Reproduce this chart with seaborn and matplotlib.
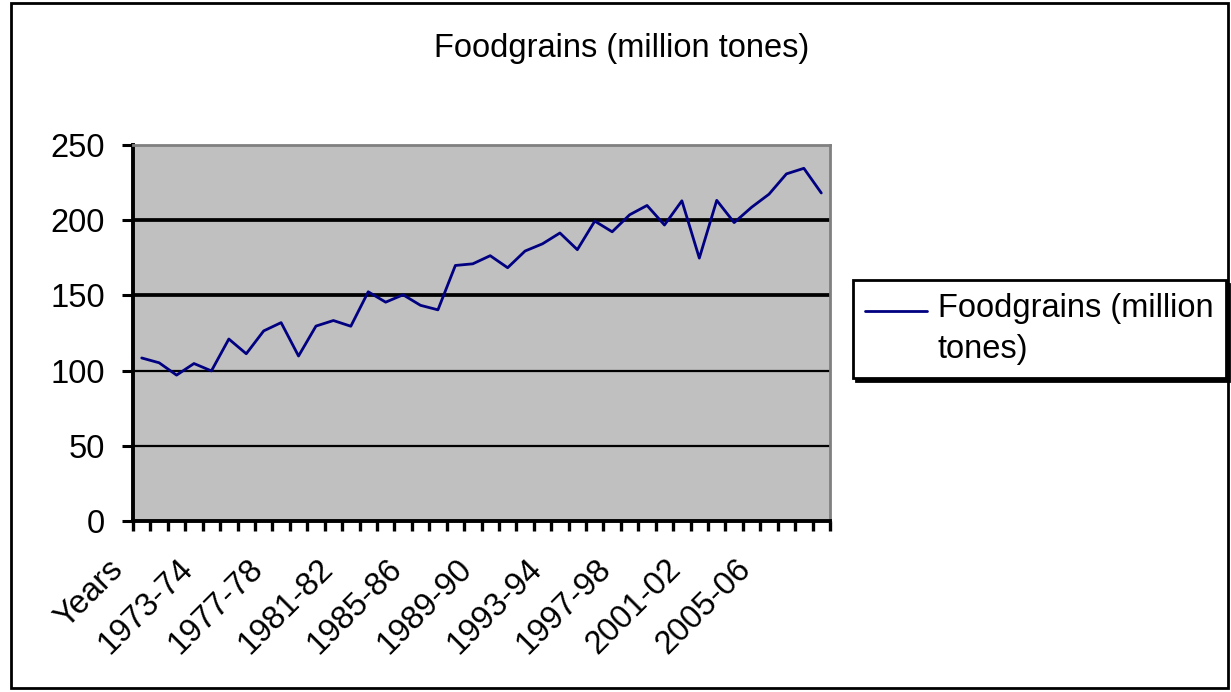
import numpy as np
import pandas as pd
import seaborn as sns
import matplotlib
matplotlib.use("Agg")
import matplotlib.pyplot as plt
from matplotlib.patches import Rectangle
from matplotlib.lines import Line2D
from matplotlib.legend_handler import HandlerLine2D

# Category labels along the x axis (one per plotted point)
seasons = [
    "Years", "1970-71", "1971-72", "1972-73", "1973-74", "1974-75", "1975-76",
    "1976-77", "1977-78", "1978-79", "1979-80", "1980-81", "1981-82", "1982-83",
    "1983-84", "1984-85", "1985-86", "1986-87", "1987-88", "1988-89", "1989-90",
    "1990-91", "1991-92", "1992-93", "1993-94", "1994-95", "1995-96", "1996-97",
    "1997-98", "1998-99", "1999-00", "2000-01", "2001-02", "2002-03", "2003-04",
    "2004-05", "2005-06", "2006-07", "2007-08", "2008-09",
]

# Foodgrain production, million tonnes
foodgrains = [
    108.4, 105.2, 97.0, 104.7, 99.8, 121.0, 111.2, 126.4, 131.9, 109.7,
    129.6, 133.3, 129.5, 152.4, 145.5, 150.4, 143.4, 140.4, 169.9, 171.0,
    176.4, 168.4, 179.5, 184.3, 191.5, 180.4, 199.4, 192.3, 203.6, 209.8,
    196.8, 212.9, 174.8, 213.2, 198.4, 208.6, 217.3, 230.8, 234.5, 218.1,
]

series_name = "Foodgrains (million tones)"
y_ticks = [0, 50, 100, 150, 200, 250]

sns.set_theme(style="white")
plt.rcParams["font.family"] = ["Liberation Sans", "DejaVu Sans"]
plt.rcParams["text.color"] = "black"
plt.rcParams["xtick.color"] = "black"
plt.rcParams["ytick.color"] = "black"


class TopAlignedLine(HandlerLine2D):
    """Legend handle drawn level with the first line of a two-line label."""

    def __init__(self, shift, **kw):
        super().__init__(**kw)
        self.shift = shift

    def create_artists(self, legend, orig_handle, xdescent, ydescent,
                       width, height, fontsize, trans):
        artists = super().create_artists(legend, orig_handle, xdescent, ydescent,
                                         width, height, fontsize, trans)
        for a in artists:
            a.set_ydata(np.asarray(a.get_ydata()) + self.shift * fontsize)
        return artists


W, H = 1231, 692
fig = plt.figure(figsize=(W / 100, H / 100), dpi=100)
fig.patch.set_facecolor("white")

ax = fig.add_axes([133 / W, 171 / H, 697 / W, 376 / H])
ax.set_facecolor("#C0C0C0")

df = pd.DataFrame({"pos": np.arange(len(seasons)), "season": seasons, "value": foodgrains})
sns.lineplot(data=df, x="pos", y="value", ax=ax, color="#000080", lw=2.0,
             legend=False, zorder=3)

ax.set_xlim(-0.5, len(seasons) - 0.5)
ax.set_ylim(0, 250)
ax.set_xlabel("")
ax.set_ylabel("")

# y axis ticks and gridlines
ax.set_yticks(y_ticks)
ax.set_yticklabels([str(v) for v in y_ticks], fontsize=23.5, color="black")
ax.tick_params(axis="y", which="major", direction="out", length=8, width=2.2,
               color="black", pad=12, left=True)
ax.set_axisbelow(True)
ax.yaxis.grid(True, color="black")
ax.xaxis.grid(False)
for val, gl in zip(y_ticks, ax.get_ygridlines()):
    if val in (150, 200):
        gl.set_linewidth(2.7)
    elif val in (50, 100):
        gl.set_linewidth(1.6)
    else:
        gl.set_visible(False)

# x axis: a label every 4th category (drawn slanted), tick marks between categories
label_pos = list(range(0, len(seasons), 4))
ax.set_xticks(label_pos)
ax.set_xticklabels([""] * len(label_pos))
ax.tick_params(axis="x", which="major", length=0, bottom=True)
for i in label_pos:
    ax.annotate(seasons[i], xy=(i, 0), xycoords=("data", "axes fraction"),
                xytext=(-8.6, -23.5), textcoords="offset points",
                rotation=45, ha="right", va="top", fontsize=23.5, color="black",
                annotation_clip=False)
ax.set_xticks(np.arange(-0.5, len(seasons), 1.0), minor=True)
ax.tick_params(axis="x", which="minor", direction="out", length=7, width=2.4,
               color="black", bottom=True)

for side in ("left", "bottom"):
    ax.spines[side].set_color("black")
    ax.spines[side].set_linewidth(2.8)
for side in ("top", "right"):
    ax.spines[side].set_color("#808080")
    ax.spines[side].set_linewidth(2.0)

fig.text(622 / W, 1 - 48 / H, series_name, ha="center", va="center",
         fontsize=23.5, color="black")

handle = Line2D([], [], color="#000080", lw=2.0)
leg = fig.legend([handle], ["Foodgrains (million\ntones)"], loc="center left",
                 bbox_to_anchor=(853 / W, 1 - 329 / H), bbox_transform=fig.transFigure,
                 fontsize=23.5, frameon=True, fancybox=False, framealpha=1,
                 edgecolor="black", borderaxespad=0, borderpad=0.38,
                 handlelength=1.9, handletextpad=0.32,
                 handler_map={Line2D: TopAlignedLine(0.58)},
                 shadow={"color": "black", "alpha": 1.0, "ox": 2.5, "oy": -2.5})
for t in leg.get_texts():
    t.set_linespacing(1.45)
    t.set_color("black")
leg.get_frame().set_linewidth(2.0)
leg.get_frame().set_facecolor("white")

fig.patches.append(Rectangle((11 / W, 4 / H), (1228 - 11) / W, (689 - 4) / H,
                             transform=fig.transFigure, fill=False,
                             edgecolor="black", lw=2.0))

fig.savefig("out.png", dpi=100, facecolor="white")
